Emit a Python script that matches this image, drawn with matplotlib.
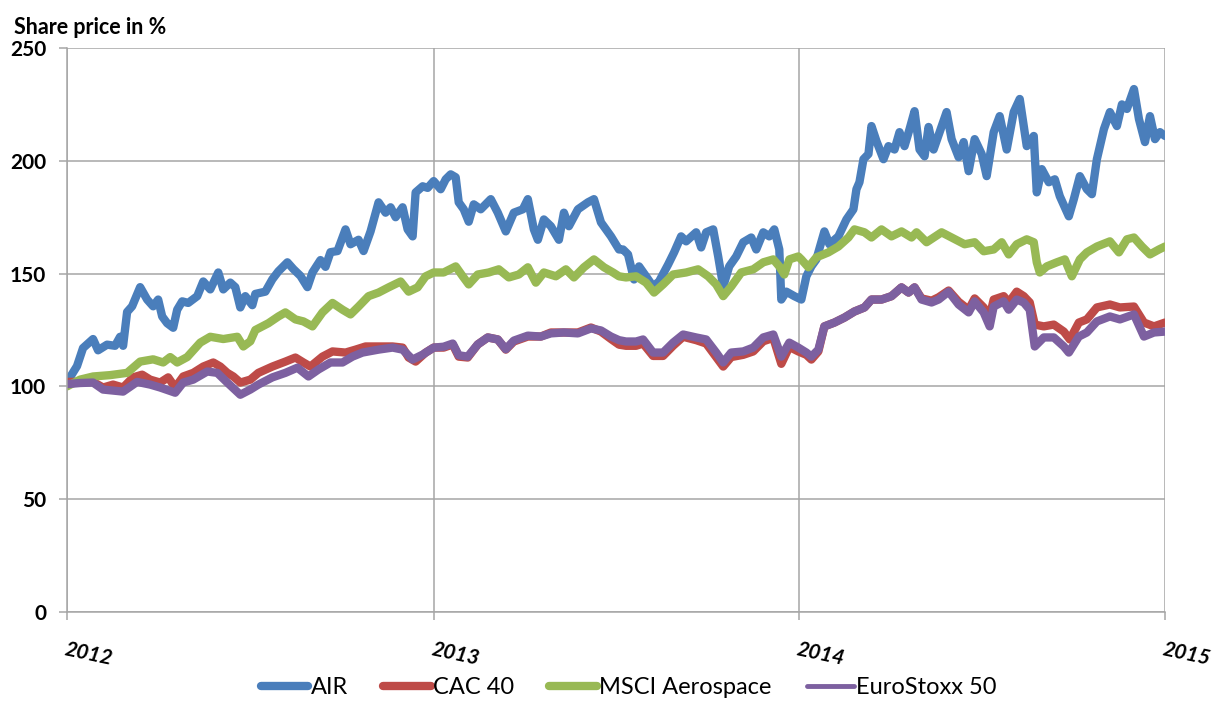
import numpy as np
import matplotlib
matplotlib.use("Agg")
import matplotlib.pyplot as plt

plt.rcParams['font.family'] = ['Lato', 'DejaVu Sans']

# days since 2012-01-01 and share price in % (start = 100)
air_days = [3, 10, 16, 26, 31, 40, 48, 53, 56, 60, 65, 73, 80, 86, 91, 95, 100, 106, 110, 115,
            121, 130, 136, 143, 151, 156, 163, 168, 173, 178, 185, 188, 198, 205, 211, 220, 226, 233, 240, 245,
            253, 258, 263, 270, 278, 283, 291, 296, 303, 311, 318, 323, 328, 335, 340, 345, 348, 355, 360, 366,
            373, 378, 383, 388, 391, 396, 401, 406, 413, 423, 430, 438, 446, 455, 460, 466, 470, 476, 483, 491,
            496, 501, 510, 520, 526, 533, 543, 551, 555, 560, 566, 571, 578, 585, 591, 600, 606, 613, 618, 628,
            633, 638, 645, 650, 655, 661, 668, 675, 683, 688, 695, 701, 706, 711, 713, 718, 726, 733, 738, 743,
            748, 756, 761, 770, 778, 785, 788, 791, 795, 800, 803, 808, 815, 820, 826, 831, 836, 841, 846, 851,
            856, 860, 865, 871, 878, 883, 890, 895, 900, 906, 913, 918, 925, 931, 938, 945, 951, 958, 965, 968,
            973, 980, 986, 991, 1000, 1005, 1011, 1018, 1023, 1028, 1035, 1041, 1048, 1053, 1058, 1065, 1070, 1076, 1081, 1086,
            1091, 1096]
air = [104, 109, 117, 121, 116, 118.5, 118, 122, 118, 133, 135.5, 144, 138.5, 135.5, 138.5, 131, 128, 126, 134, 137.7,
       137, 140, 146.5, 143, 150.5, 143, 146, 144, 135, 140, 136, 141, 142, 147.5, 151, 155, 152, 149, 144, 150.5,
       156, 153, 159.5, 160, 169.6, 163, 165, 160, 168.7, 181.6, 177, 179.4, 175, 179.4, 169.6, 166.5, 186, 188.7, 188, 191,
       187.4, 191.8, 194, 192.7, 181.6, 178.5, 173, 180.7, 178.5, 183, 177, 168.7, 177, 178.5, 183, 169.6, 165, 174, 171, 165,
       177, 171, 178.5, 181.6, 183, 172.7, 166.5, 160.7, 160.7, 158.5, 147.4, 153.2, 148.8, 144.3, 146.5, 154, 159.4, 166.5, 164.3, 168.3,
       161.6, 168.3, 169.6, 157.6, 144.3, 153.2, 157.6, 163.9, 166, 160.7, 168.3, 166.5, 169.6, 160.7, 138.5, 142, 140, 138.5, 148.8, 153.2,
       156.3, 168.7, 163, 166.5, 174, 178.5, 187.4, 190.5, 200.7, 203, 215.4, 208.7, 200.7, 206.5, 205, 212.7, 206.5, 214, 222, 205,
       202, 215, 205, 212.7, 221.6, 209.6, 201.6, 208.3, 195.4, 209.6, 203, 193.2, 212.7, 219.8, 205, 221.6, 227.4, 206.5, 211, 186,
       196.3, 190.5, 191.8, 184.3, 175.4, 183, 193.2, 187.4, 185.2, 200.7, 214, 221.6, 215.4, 225, 223, 231.8, 218.5, 208.3, 219.8, 209.6,
       212.7, 211]

cac_days = [0, 13, 26, 36, 46, 56, 66, 75, 83, 93, 101, 108, 116, 126, 136, 146, 153, 160, 166, 173,
            183, 191, 205, 218, 228, 236, 243, 255, 265, 278, 288, 298, 311, 325, 335, 341, 348, 358, 366, 376,
            385, 391, 400, 410, 420, 430, 438, 446, 460, 473, 483, 496, 510, 523, 533, 543, 551, 558, 568, 575,
            585, 595, 605, 615, 628, 638, 648, 655, 663, 675, 685, 695, 705, 713, 721, 730, 738, 743, 750, 756,
            766, 776, 786, 796, 803, 813, 823, 833, 840, 846, 853, 863, 870, 880, 890, 900, 906, 915, 921, 925,
            935, 940, 948, 955, 961, 966, 975, 985, 995, 1001, 1010, 1018, 1028, 1041, 1051, 1065, 1075, 1085, 1096]
cac = [102, 102, 102, 99.5, 100.8, 99.5, 104, 105.2, 103, 101.7, 104, 99.5, 104.4, 106, 108.8, 110.6, 108.8, 106, 104.4, 101.7,
       103, 106, 108.8, 111, 112.8, 110.6, 108.8, 113.2, 115.5, 115, 116.3, 117.7, 117.7, 117.7, 117.2, 112.8, 111, 115, 117.2, 117.2,
       118.6, 113.2, 112.8, 118.6, 121.7, 120.8, 116.3, 119.9, 122.1, 122.1, 123.9, 123.9, 123.9, 126.1, 124.3, 121, 118.5, 118, 118, 119,
       113.5, 113.5, 118, 122, 120.5, 119, 113, 108.8, 113, 114, 115.5, 120, 121.5, 110, 117.5, 115.5, 114, 111.9, 115.5, 126.6,
       128.3, 130.5, 133.2, 135, 138.5, 138.5, 140, 143.9, 141.6, 143.9, 139, 138, 139.5, 142.5, 137.5, 134, 139, 135, 131, 138.5,
       140, 137.2, 142, 140, 137.2, 127.4, 126.6, 127.4, 124.3, 120.8, 128.3, 129.7, 135, 136.3, 135, 135.4, 128.3, 126.6, 128.3]

msci_days = [0, 13, 26, 43, 60, 73, 86, 96, 103, 110, 120, 133, 143, 156, 170, 176, 183, 188, 201, 211,
             218, 228, 236, 245, 255, 265, 275, 283, 291, 301, 311, 321, 333, 341, 350, 358, 366, 376, 388, 395,
             401, 410, 421, 431, 441, 451, 460, 468, 476, 488, 498, 506, 516, 526, 536, 545, 551, 558, 568, 578,
             586, 595, 605, 618, 630, 640, 648, 655, 663, 673, 685, 695, 705, 711, 716, 721, 730, 733, 740, 748,
             760, 770, 780, 786, 796, 803, 813, 823, 833, 843, 848, 858, 873, 883, 896, 906, 915, 925, 933, 940,
             948, 958, 965, 968, 971, 978, 988, 996, 1003, 1011, 1018, 1028, 1041, 1050, 1058, 1065, 1073, 1081, 1090, 1096]
msci = [100, 103, 104.4, 105, 106, 111, 112, 110.6, 113, 110.6, 113, 119.4, 122, 121, 122, 117.7, 120, 125, 128, 131,
        132.8, 129.7, 128.8, 126.6, 132.8, 137, 134, 131.9, 135.4, 140, 141.6, 143.9, 146.5, 142, 143.9, 148.8, 150.5, 150.5, 153.2, 148.8,
        145.2, 149.6, 150.5, 151.9, 148.3, 149.6, 152.8, 146, 150.5, 148.8, 151.9, 148.3, 152.8, 156.3, 152.8, 150.5, 148.8, 148.3, 148.8, 146,
        141.6, 145.2, 149.6, 150.5, 151.9, 148.8, 145.2, 140, 144.3, 150.5, 151.9, 155, 156.3, 153.2, 149.6, 156.3, 157.6, 156.3, 152.8, 157.2,
        159.4, 162, 166, 169.6, 168.3, 166, 169.6, 166.5, 168.7, 166, 168.3, 163.9, 168.3, 166, 163, 163.9, 159.9, 160.7, 163.9, 158.5,
        163, 165.2, 163.9, 155, 150.5, 153.2, 155, 156.3, 148.8, 156.3, 159.4, 162, 164.3, 159.4, 165.2, 166, 162, 158.5, 160.7, 162]

stoxx_days = [0, 13, 26, 36, 56, 70, 83, 93, 108, 116, 126, 140, 150, 160, 173, 183, 191, 205, 218, 230,
              241, 251, 263, 275, 285, 295, 311, 325, 335, 345, 355, 366, 376, 385, 391, 400, 410, 420, 430, 438,
              446, 460, 473, 483, 496, 510, 523, 533, 543, 551, 558, 568, 575, 585, 595, 605, 615, 628, 638, 648,
              655, 663, 675, 685, 695, 705, 713, 721, 730, 738, 743, 750, 756, 766, 776, 786, 796, 803, 813, 823,
              833, 840, 846, 853, 863, 870, 880, 890, 900, 906, 915, 921, 925, 935, 940, 948, 955, 961, 966, 975,
              985, 995, 1000, 1010, 1018, 1028, 1041, 1051, 1065, 1075, 1085, 1096]
stoxx = [101, 101.5, 101.7, 98.6, 97.7, 102, 100.8, 99.5, 97.2, 101.7, 103, 106.6, 106, 101.7, 96.3, 98.6, 100.8, 104, 106, 108.3,
         104.4, 107.5, 110.6, 110.6, 113.2, 115, 116.3, 117.2, 116.3, 111.9, 114.1, 117.2, 117.6, 119, 113.8, 113.2, 118.6, 121.7, 120.8, 116.5,
         120.3, 122.5, 122.1, 123.5, 123.9, 123.5, 125.7, 124.8, 122.1, 120.5, 119.9, 119.9, 120.8, 115, 115, 119.4, 123, 121.7, 120.8, 115,
         110.6, 115, 115.5, 117.2, 121.7, 123, 113.2, 119.4, 117.2, 115, 113.2, 116.3, 126.6, 128.3, 130.5, 133.2, 135, 138.5, 138.5, 140,
         143.9, 141.6, 143.9, 138.5, 137.2, 138.5, 142, 136.3, 132.8, 137.7, 132.8, 126.6, 135.4, 137.7, 134, 138.5, 137.2, 134, 117.7, 121.7,
         121.7, 117.7, 115, 122.1, 123.9, 128.8, 131, 129.7, 131.9, 122.1, 123.9, 124.3]

series = [('AIR', air_days, air, '#4A7EBB'),
          ('CAC 40', cac_days, cac, '#BE4B48'),
          ('MSCI Aerospace', msci_days, msci, '#98B954'),
          ('EuroStoxx 50', stoxx_days, stoxx, '#7D60A0')]

start = np.datetime64('2012-01-01')
years = ['2012', '2013', '2014', '2015']

fig = plt.figure(figsize=(12.19, 7.02), dpi=100)
ax = fig.add_axes([67/1219, 1-612/702, 1098/1219, 564/702])

for name, d, v, c in series:
    x = start + np.array(d).astype('timedelta64[D]')
    ax.plot(x, v, color=c, lw=6, label=name, solid_joinstyle='round', solid_capstyle='round')

ax.set_ylim(0, 250)
ax.set_yticks(range(0, 251, 50))
ax.set_xlim(np.datetime64('2012-01-01'), np.datetime64('2015-01-01'))
ax.set_xticks([np.datetime64(y + '-01-01') for y in years])
ax.set_xticklabels(years, rotation=-12, rotation_mode='anchor', ha='left', va='top',
                   fontsize=15, fontweight='bold', style='italic')

ax.grid(True, color='#A6A6A6', lw=1.1)
ax.set_axisbelow(True)
for side in ['top', 'right']:
    ax.spines[side].set_visible(False)
for side in ['left', 'bottom']:
    ax.spines[side].set_color('#A6A6A6')
    ax.spines[side].set_linewidth(1.1)
ax.tick_params(axis='y', length=6, width=1.1, color='#A6A6A6', pad=9, labelsize=15)
ax.tick_params(axis='x', length=6, width=1.1, color='#A6A6A6', pad=14)
for t in ax.get_yticklabels():
    t.set_fontweight('bold')

fig.text(14/1219, 1-27/702, 'Share price in %', fontsize=15.5, fontweight='bold', va='center')

leg = fig.legend(loc='center', bbox_to_anchor=(629/1219, 1-688/702), ncol=4, frameon=False,
                 fontsize=17, handlelength=2.0, handletextpad=0.1, columnspacing=1.5)
for i, line in enumerate(leg.get_lines()):
    line.set_linewidth(6 if i < 3 else 3.5)

fig.savefig('out.png', dpi=100)
